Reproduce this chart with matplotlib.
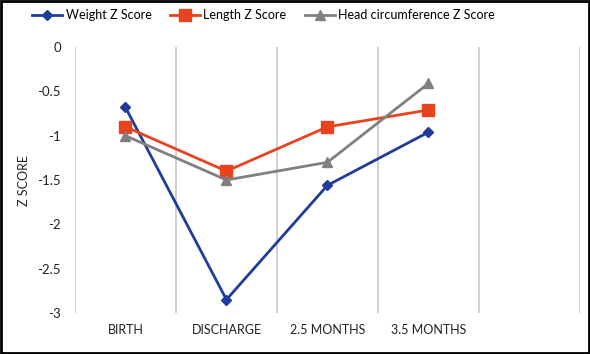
import matplotlib.pyplot as plt
from matplotlib.patches import Rectangle

categories = ["BIRTH", "DISCHARGE", "2.5 MONTHS", "3.5 MONTHS"]
weight_z = [-0.68, -2.85, -1.56, -0.96]
length_z = [-0.9, -1.4, -0.9, -0.71]
head_z = [-1.0, -1.5, -1.3, -0.41]
y_ticks = [0, -0.5, -1, -1.5, -2, -2.5, -3]
y_tick_labels = ["0", "-0.5", "-1", "-1.5", "-2", "-2.5", "-3"]

plt.rcParams["font.family"] = ["Lato", "DejaVu Sans"]

fig = plt.figure(figsize=(5.9, 3.54), dpi=100)
ax = fig.add_axes([0.127, 0.116, 0.856, 0.751])

x = list(range(len(categories)))
ax.plot(x, weight_z, color="#1f3c9c", marker="D", markersize=5, linewidth=2,
        label="Weight Z Score")
ax.plot(x, length_z, color="#e8431e", marker="s", markersize=8, linewidth=2,
        label="Length Z Score")
ax.plot(x, head_z, color="#808080", marker="^", markersize=7, linewidth=2,
        label="Head circumference Z Score")

# five category slots, the last one empty
for b in [-0.5, 0.5, 1.5, 2.5, 3.5, 4.5]:
    ax.axvline(b, color="#c8c8c8", linewidth=1.2, zorder=0)

ax.set_xlim(-0.5, 4.5)
ax.set_ylim(-3, 0)
ax.set_xticks(x)
ax.set_xticklabels(categories, fontsize=9, color="#222222")
ax.set_yticks(y_ticks)
ax.set_yticklabels(y_tick_labels, fontsize=9.5, color="#222222")
ax.tick_params(length=0, pad=8)
ax.tick_params(axis="y", pad=10)
for s in ax.spines.values():
    s.set_visible(False)
ax.set_ylabel("Z SCORE", fontsize=9, color="#222222", labelpad=5)

fig.legend(loc="upper center", bbox_to_anchor=(0.447, 1.005), ncol=3, frameon=False,
           fontsize=9, handlelength=2.4, columnspacing=1.5, handletextpad=0.25)

fig.add_artist(Rectangle((0.002, 0.003), 0.996, 0.994, transform=fig.transFigure,
                         fill=False, edgecolor="black", linewidth=2))

fig.savefig("out.png", dpi=100)
